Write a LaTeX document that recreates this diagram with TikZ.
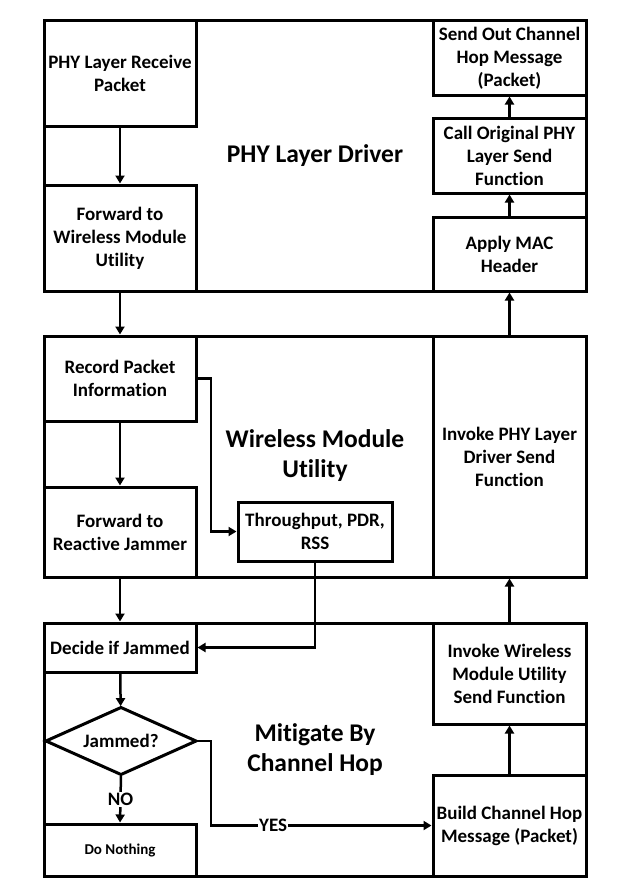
\documentclass[tikz,border=0pt]{standalone}
\usepackage{fontspec}
\setmainfont{Carlito}[Ligatures=NoCommon]
\usetikzlibrary{arrows.meta,shapes.geometric}

\begin{document}
\begin{tikzpicture}[x=1pt, y=-1pt, line join=miter, >={Triangle[width=9pt,length=8pt]},
	every node/.style={font=\bfseries\fontsize{19}{23}\selectfont, align=center, inner sep=0pt, outer sep=0pt},
	layer/.style={draw, line width=3pt, anchor=north west, minimum width=542pt},
	box/.style={draw, line width=3pt, anchor=north west, minimum width=152pt},
	rbox/.style={box, minimum width=153pt},
	title/.style={font=\bfseries\fontsize{25.5}{30}\selectfont},
	flow/.style={->, line width=2.5pt, shorten >=1.5pt, shorten <=1.5pt},
	lbl/.style={fill=white, inner sep=1pt}]
	\useasboundingbox (0,0) rectangle (631,891);
	% three layers
	\node[layer, minimum height=270pt] (phydrv) at (44,21) {};
	\node[layer, minimum height=241pt] (wmu) at (44,336) {};
	\node[layer, minimum height=253pt] (mitig) at (44,623) {};
	\node[title] (phytitle) at (315,156) {PHY Layer Driver};
	\node[title] (wmutitle) at (315,456) {Wireless Module\\Utility};
	\node[title] (mitigtitle) at (315,750) {Mitigate By\\Channel Hop};
	% PHY layer driver
	\node[box, minimum height=105pt] (recv) at (44,21) {PHY Layer Receive\\Packet};
	\node[box, minimum height=106pt] (fwdwmu) at (44,185) {Forward to\\Wireless Module\\Utility};
	\node[rbox, minimum height=74pt] (sendout) at (433,21) {Send Out Channel\\Hop Message\\(Packet)};
	\node[rbox, minimum height=75pt] (callphy) at (433,118) {Call Original PHY\\Layer Send\\Function};
	\node[rbox, minimum height=74pt] (mac) at (433,217) {Apply MAC\\Header};
	% wireless module utility
	\node[box, minimum height=85pt] (record) at (44,336) {Record Packet\\Information};
	\node[box, minimum height=90pt] (fwdjam) at (44,487) {Forward to\\Reactive Jammer};
	\node[box, minimum width=154pt, minimum height=59pt] (stats) at (238,502) {Throughput, PDR,\\RSS};
	\node[rbox, minimum height=241pt] (invphy) at (433,336) {Invoke PHY Layer\\Driver Send\\Function};
	% mitigate by channel hop
	\node[box, minimum height=49pt] (decide) at (44,623) {Decide if Jammed};
	\node[draw, diamond, line width=3pt, aspect=2.24, minimum width=150pt, minimum height=67pt] (jammed) at (121,741) {Jammed?};
	\node[box, minimum height=52pt, font=\bfseries\fontsize{15}{18}\selectfont] (nothing) at (44,824) {Do Nothing};
	\node[rbox, minimum height=101pt] (invwmu) at (433,623) {Invoke Wireless\\Module Utility\\Send Function};
	\node[rbox, minimum height=101pt] (build) at (433,775) {Build Channel Hop\\Message (Packet)};
	% receive path
	\draw[flow] (recv) -- (fwdwmu);
	\draw[flow] (fwdwmu) -- (record);
	\draw[flow] (record.east) -- ++(15,0) |- (stats.west);
	\draw[flow] (record) -- (fwdjam);
	\draw[flow] (fwdjam) -- (decide);
	\draw[flow] (stats.south) |- (decide.east);
	\draw[flow] (decide) -- (jammed);
	\draw[flow] (jammed.south) -- node[lbl] {NO} (nothing.north);
	\draw[flow] (jammed.east) -- ++(15,0) |- node[lbl, pos=0.64] {YES} (build.west);
	% send path
	\draw[flow] (build) -- (invwmu);
	\draw[flow] (invwmu) -- (invphy);
	\draw[flow] (invphy) -- (mac);
	\draw[flow] (mac) -- (callphy);
	\draw[flow] (callphy) -- (sendout);
\end{tikzpicture}
\end{document}
